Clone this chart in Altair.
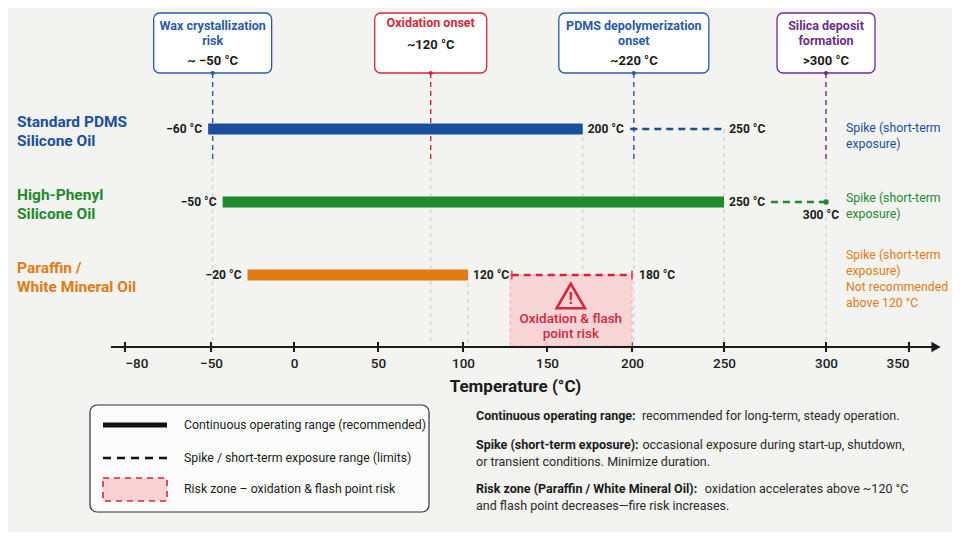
import altair as alt
import numpy as np
import pandas as pd

# --- values ---
OIL_KEYS = ["PDMS", "Phenyl", "Paraffin"]
OIL_NAMES = ["Standard PDMS\nSilicone Oil", "High-Phenyl\nSilicone Oil", "Paraffin /\nWhite Mineral Oil"]
SOLID_START = [-51, -43, -28]
SOLID_END = [171, 250, 103]
SPIKE_START = [199, 273, 129]
SPIKE_END = [249, 300, 200]
LOW_LABEL = ["−60 °C", "−50 °C", "−20 °C"]
HIGH_LABEL = ["200 °C", "250 °C", "120 °C"]
SPIKE_LABEL = ["250 °C", "300 °C", "180 °C"]
NOTES = [
    "Spike (short-term\nexposure)",
    "Spike (short-term\nexposure)",
    "Spike (short-term\nexposure)\nNot recommended\nabove 120 °C",
]

RISK_START, RISK_END = 128, 200
RISK_TEXT = "Oxidation & flash\npoint risk"

MARKER_AT = [-49, 81, 201, 300]
MARKER_TITLE = ["Wax crystallization\nrisk", "Oxidation onset", "PDMS depolymerization\nonset", "Silica deposit\nformation"]
MARKER_VALUE = ["~ −50 °C", "~120 °C", "~220 °C", ">300 °C"]

GUIDE_AT = [-49, 81, 103, 171, 201, 250, 300]
GUIDE_FROM = ["PDMS", "PDMS", "Paraffin", "PDMS", "PDMS", "PDMS", "PDMS"]

TICKS = [-80, -50, 0, 50, 100, 150, 200, 250, 300, 350]

LEGEND_LABELS = [
    "Continuous operating range (recommended)",
    "Spike / short-term exposure range (limits)",
    "Risk zone – oxidation & flash point risk",
]
NOTE_BOLD = ["Continuous operating range:", "Spike (short-term exposure):", "Risk zone (Paraffin / White Mineral Oil):"]
NOTE_REST = [
    ["recommended for long-term, steady operation."],
    ["occasional exposure during start-up, shutdown,", "or transient conditions. Minimize duration."],
    ["oxidation accelerates above ~120 °C", "and flash point decreases—fire risk increases."],
]

# --- styling / layout ---
FONT = "Roboto, Liberation Sans, sans-serif"
INK = "#1b1b1b"
BG = "#f3f3f2"
OIL_COLORS = ["#1a4fa0", "#1e8a2c", "#e27b14"]
MARKER_COLORS = ["#2a5ba8", "#d3283a", "#2a5ba8", "#6c2d8f"]
RED = "#d3283a"
PINK = "#f8d2d5"
TICK_PX = [117, 203, 286, 370, 455, 539, 624, 716, 818, 901]  # axis is not evenly spaced
BOX_HALF = [59, 56, 75, 49]
NOTE_SIZE = 12.5

# rough Roboto advance widths (units per em = 2048), used to place bold/regular runs
ROBOTO_W = {" ": 507, "(": 699, ")": 710, "/": 842, ":": 486, "-": 553, "~": 1360, "°": 766,
            "a": 1114, "b": 1149, "c": 1071, "d": 1155, "e": 1082, "f": 710, "g": 1149, "h": 1128,
            "i": 496, "k": 1016, "l": 496, "m": 1796, "n": 1127, "o": 1141, "p": 1147, "r": 693,
            "s": 1056, "t": 668, "u": 1125, "v": 990, "w": 1536, "x": 1011, "y": 968, "z": 1011,
            "C": 1305, "S": 1216, "R": 1260, "W": 1818, "M": 1788, "O": 1380, "P": 1292}


def text_width(s, size, bold=False):
    w = sum(ROBOTO_W.get(ch, 1150) for ch in s) / 2048 * size
    return w * (1.03 if bold else 1.0)


def px(v):
    return float(np.interp(v, TICKS, TICK_PX))


x_scale = alt.Scale(domain=TICKS, range=TICK_PX, zero=False, nice=False)
y_scale = alt.Scale(type="point", domain=OIL_KEYS, range=[121, 267], padding=0)
c_scale = alt.Scale(domain=OIL_KEYS, range=OIL_COLORS)


def X(field):
    return alt.X(field, type="quantitative", scale=x_scale, axis=None)


Y = alt.Y("oil:N", scale=y_scale, axis=None)
C = alt.Color("oil:N", scale=c_scale, legend=None)

rows = pd.DataFrame({
    "oil": OIL_KEYS, "name": OIL_NAMES,
    "s0": SOLID_START, "s1": SOLID_END, "p0": SPIKE_START, "p1": SPIKE_END,
    "lo": LOW_LABEL, "hi": HIGH_LABEL, "sp": SPIKE_LABEL, "note": NOTES,
})
one = pd.DataFrame({"k": [0]})
layers = []

# axis ticks carry the real axis (labels + title)
tick_df = pd.DataFrame({"t": TICKS})
layers.append(alt.Chart(tick_df).mark_rule(color=INK, strokeWidth=2).encode(
    x=alt.X("t:Q", scale=x_scale, axis=alt.Axis(
        values=TICKS, domain=False, ticks=False, grid=False, labelPadding=9,
        labelFont=FONT, labelFontSize=13.5, labelColor=INK, labelFontWeight=500,
        title="Temperature (°C)", titleFont=FONT, titleFontSize=17, titleColor=INK,
        titleFontWeight="bold", titleX=507, titleY=39, titleBaseline="middle", titleAlign="center")),
    y=alt.value(334), y2=alt.value(344),
))

# faint guide lines
guides = pd.DataFrame({"v": GUIDE_AT, "oil": GUIDE_FROM})
layers.append(alt.Chart(guides).mark_rule(color="#c9c9c9", strokeWidth=1, strokeDash=[4, 4]).encode(
    x=X("v"), y=Y, y2=alt.value(336)))

# risk zone
risk = pd.DataFrame({"oil": ["Paraffin"], "a": [RISK_START], "b": [RISK_END],
                     "m": [(RISK_START + RISK_END) / 2], "txt": [RISK_TEXT]})
layers.append(alt.Chart(risk).mark_rect(fill=PINK, opacity=0.9, stroke="#efaab2",
                                        strokeDash=[4, 3], strokeWidth=1).encode(
    x=X("a"), x2="b", y=Y, y2=alt.value(338)))
layers.append(alt.Chart(risk).mark_point(shape="triangle-up", filled=False, color=RED, size=800,
                                         strokeWidth=2.6, opacity=1, yOffset=21).encode(x=X("m"), y=Y))
layers.append(alt.Chart(risk).mark_text(text="!", font=FONT, fontSize=17, fontWeight="bold", color=RED,
                                        dy=24).encode(x=X("m"), y=Y))
layers.append(alt.Chart(risk).mark_text(font=FONT, fontSize=13.5, fontWeight=500, color=RED, lineBreak="\n",
                                        lineHeight=15, baseline="top", dy=37).encode(x=X("m"), y=Y, text="txt:N"))

# marker dashed lines and boxes
for i, v in enumerate(MARKER_AT):
    col = MARKER_COLORS[i]
    d = pd.DataFrame({"v": [v], "l": [px(v) - BOX_HALF[i]], "r": [px(v) + BOX_HALF[i]],
                      "title": [MARKER_TITLE[i]], "val": [MARKER_VALUE[i]]})
    layers.append(alt.Chart(d).mark_rule(color=col, strokeWidth=1.4, strokeDash=[5, 4]).encode(
        x=X("v"), y=alt.value(65), y2=alt.value(152)))
    layers.append(alt.Chart(d).mark_rect(fill="white", stroke=col, strokeWidth=1.3, cornerRadius=6).encode(
        x=alt.X("l:Q", scale=None), x2="r:Q", y=alt.value(5), y2=alt.value(65)))
    layers.append(alt.Chart(d).mark_point(filled=True, color=col, size=18, opacity=1).encode(
        x=X("v"), y=alt.value(65)))
    two = "\n" in MARKER_TITLE[i]
    layers.append(alt.Chart(d).mark_text(font=FONT, fontSize=12.5, fontWeight="bold", color=col,
                                         lineBreak="\n", lineHeight=15, baseline="top").encode(
        x=X("v"), y=alt.value(12 if two else 9), text="title:N"))
    layers.append(alt.Chart(d).mark_text(font=FONT, fontSize=13, fontWeight="bold", color=INK,
                                         baseline="middle").encode(
        x=X("v"), y=alt.value(53 if two else 37), text="val:N"))

# ranges
layers.append(alt.Chart(rows).mark_rule(strokeWidth=11, strokeCap="butt").encode(
    x=X("s0"), x2="s1", y=Y, color=C))
silicones = rows[rows.oil != "Paraffin"]
paraffin = rows[rows.oil == "Paraffin"]
phen = rows[rows.oil == "Phenyl"]
layers.append(alt.Chart(silicones).mark_rule(strokeWidth=2.6, strokeDash=[7, 5], strokeCap="butt").encode(
    x=X("p0"), x2="p1", y=Y, color=C))
layers.append(alt.Chart(paraffin).mark_rule(color=RED, strokeWidth=2.6, strokeDash=[7, 5],
                                            strokeCap="butt").encode(x=X("p0"), x2="p1", y=Y))
par_ends = paraffin.melt(id_vars=["oil"], value_vars=["p0", "p1"], value_name="e")
layers.append(alt.Chart(par_ends).mark_tick(color=RED, thickness=2, size=9, orient="vertical").encode(
    x=X("e"), y=Y))
layers.append(alt.Chart(phen).mark_point(filled=True, size=30, opacity=1).encode(x=X("p1"), y=Y, color=C))

# range end labels
lbl = dict(font=FONT, fontSize=12, fontWeight="bold", color=INK, baseline="middle")
layers.append(alt.Chart(rows).mark_text(align="right", dx=-6, **lbl).encode(x=X("s0"), y=Y, text="lo:N"))
layers.append(alt.Chart(rows).mark_text(align="left", dx=5, **lbl).encode(x=X("s1"), y=Y, text="hi:N"))
not_phen = rows[rows.oil != "Phenyl"]
layers.append(alt.Chart(not_phen).mark_text(align="left", dx=7, **lbl).encode(x=X("p1"), y=Y, text="sp:N"))
layers.append(alt.Chart(phen).mark_text(align="right", dx=13, dy=13, **lbl).encode(x=X("p1"), y=Y, text="sp:N"))

# oil names on the left
layers.append(alt.Chart(rows).mark_text(align="left", baseline="top", dy=-14, font=FONT, fontSize=15.5,
                                        fontWeight="bold", lineBreak="\n", lineHeight=19).encode(
    x=alt.value(9), y=Y, text="name:N", color=C))

# notes on the right
for key, dy in zip(OIL_KEYS, [-7, -10, -26]):
    layers.append(alt.Chart(rows[rows.oil == key]).mark_text(
        align="left", baseline="top", dy=dy, font=FONT, fontSize=12.3, lineBreak="\n", lineHeight=16).encode(
        x=alt.value(838), y=Y, text="note:N", color=C))

# axis line with arrow
layers.append(alt.Chart(one).mark_rule(color=INK, strokeWidth=2).encode(
    x=alt.value(103), x2=alt.value(926), y=alt.value(339)))
layers.append(alt.Chart(one).mark_point(shape="triangle-right", filled=True, color=INK, size=110,
                                        opacity=1).encode(x=alt.value(928), y=alt.value(339)))

# legend box
layers.append(alt.Chart(one).mark_rect(fill="#fbfbfb", stroke="#333333", strokeWidth=1.2, cornerRadius=7).encode(
    x=alt.value(82), x2=alt.value(421), y=alt.value(397), y2=alt.value(504)))
layers.append(alt.Chart(one).mark_rule(color="#111111", strokeWidth=5, strokeCap="butt").encode(
    x=alt.value(95), x2=alt.value(159), y=alt.value(417)))
layers.append(alt.Chart(one).mark_rule(color="#111111", strokeWidth=2.6, strokeDash=[8, 6],
                                       strokeCap="butt").encode(
    x=alt.value(95), x2=alt.value(159), y=alt.value(450)))
layers.append(alt.Chart(one).mark_rect(fill=PINK, stroke=RED, strokeWidth=1.6, strokeDash=[6, 5]).encode(
    x=alt.value(95), x2=alt.value(159), y=alt.value(470), y2=alt.value(493)))
for lab, yy in zip(LEGEND_LABELS, [417, 450, 481]):
    layers.append(alt.Chart(one).mark_text(text=lab, align="left", baseline="middle", font=FONT,
                                           fontSize=12.3, color=INK).encode(x=alt.value(176), y=alt.value(yy)))

# explanatory notes: bold lead-in followed by regular text
for bold, rest, yy in zip(NOTE_BOLD, NOTE_REST, [408, 437, 481]):
    xr = 468 + text_width(bold, NOTE_SIZE, True) + 5
    layers.append(alt.Chart(one).mark_text(text=bold, align="left", baseline="middle", font=FONT,
                                           fontSize=NOTE_SIZE, fontWeight="bold", color=INK).encode(
        x=alt.value(468), y=alt.value(yy)))
    layers.append(alt.Chart(one).mark_text(text=rest[0], align="left", baseline="middle", font=FONT,
                                           fontSize=NOTE_SIZE, color="#2a2a2a").encode(
        x=alt.value(xr), y=alt.value(yy)))
    if len(rest) > 1:
        layers.append(alt.Chart(one).mark_text(text=rest[1], align="left", baseline="middle", font=FONT,
                                               fontSize=NOTE_SIZE, color="#2a2a2a").encode(
            x=alt.value(468), y=alt.value(yy + 17)))

chart = alt.layer(*layers).resolve_axis(x="independent").properties(
    width=944, height=339,
    autosize=alt.AutoSizeParams(type="none"),
    padding={"left": 0, "top": 0, "right": 0, "bottom": 185},
    background=BG,
).configure_view(stroke=None)

chart.save("out.html", embed_options={"renderer": "svg", "actions": False})
